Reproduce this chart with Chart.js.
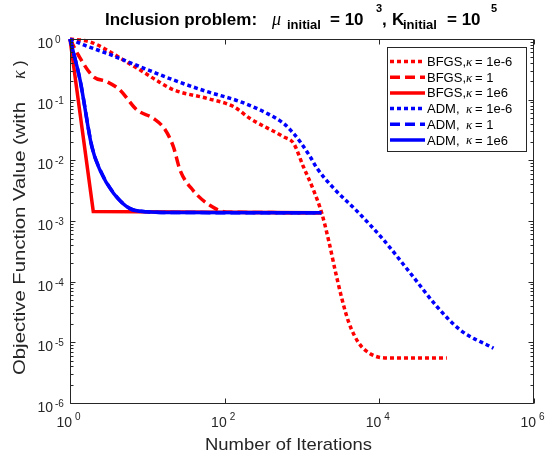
<!DOCTYPE html>
<html>
<head>
<meta charset="utf-8">
<script src="https://cdn.jsdelivr.net/npm/chart.js@4.4.0/dist/chart.umd.min.js"></script>
<style>
  html, body { margin: 0; padding: 0; background: #fff; }
</style>
</head>
<body>
<canvas id="chart" width="547" height="452"></canvas>
<script>
// BFGS, kappa = 1e-6 (red dotted)
const bfgsTinyX = [1, 1.8, 3, 4.9, 8, 13, 22, 59, 130, 213, 575, 780, 1040, 1400, 1800, 2200, 2800, 3800, 5100, 7600, 13800, 74600];
const bfgsTinyY = [1, 0.9, 0.66, 0.45, 0.31, 0.21, 0.145, 0.105, 0.077, 0.049, 0.0245, 0.019, 0.0079, 0.0033, 0.00135, 0.00049, 0.000121, 0.0000266, 0.000011, 0.0000065, 0.0000055, 0.0000055];
// BFGS, kappa = 1 (red dashed)
const bfgsOneX = [1, 1.28, 2, 3, 4.4, 7.3, 12, 17, 21.7, 26.5, 39, 65, 107, 1780];
const bfgsOneY = [1, 0.545, 0.24, 0.198, 0.145, 0.068, 0.049, 0.032, 0.0168, 0.0069, 0.0032, 0.0018, 0.0014, 0.00137];
// BFGS, kappa = 1e6 (red solid)
const bfgsBigX = [1, 2, 1780];
const bfgsBigY = [1, 0.00143, 0.00137];
// ADM, kappa = 1e-6 (blue dotted)
const admTinyX = [1, 1.5, 3, 8, 22, 59, 158, 350, 575, 774, 945, 1273, 1554, 2550, 5100, 11300, 25200, 55400, 111000, 299000];
const admTinyY = [1, 0.8, 0.58, 0.35, 0.21, 0.136, 0.093, 0.0597, 0.0408, 0.0279, 0.0203, 0.0115, 0.0075, 0.0035, 0.00147, 0.00049, 0.000138, 0.000039, 0.000016, 0.000008];
// ADM, kappa = 1 (blue dashed)
const admOneX = [1, 1.35, 1.92, 2.46, 3.66, 6, 9.9, 20, 1780];
const admOneY = [1, 0.21, 0.017, 0.0069, 0.0029, 0.0016, 0.00142, 0.00138, 0.00137];
// ADM, kappa = 1e6 (blue solid)
const admBigX = [1, 1.35, 1.91, 2.44, 3.63, 5.97, 9.8, 20, 1780];
const admBigY = [1, 0.21, 0.017, 0.0069, 0.0029, 0.0016, 0.00142, 0.00138, 0.00137];

const legendPrefix = ['BFGS,', 'BFGS,', 'BFGS,', 'ADM,', 'ADM,', 'ADM,'];
const legendValue = ['= 1e-6', '= 1', '= 1e6', '= 1e-6', '= 1', '= 1e6'];

const xTicks = [1, 1e2, 1e4, 1e6];
const xTickExp = ['0', '2', '4', '6'];
const yTicks = [1, 1e-1, 1e-2, 1e-3, 1e-4, 1e-5, 1e-6];
const yTickExp = ['0', '-1', '-2', '-3', '-4', '-5', '-6'];

const RED = '#ff0000';
const BLUE = '#0000ff';
const DOT = [4, 3];
const DASH = [10, 5];
const TXT = '#262626';

function pts(xs, ys) {
  return xs.map((x, i) => ({ x: x, y: ys[i] }));
}

function series(label, xs, ys, color, dash, idx, straight) {
  return {
    label: label,
    data: pts(xs, ys),
    borderColor: color,
    backgroundColor: color,
    borderWidth: 3.5,
    borderDash: dash,
    borderCapStyle: 'butt',
    pointRadius: 0,
    fill: false,
    clip: false,
    cubicInterpolationMode: straight ? 'default' : 'monotone',
    tension: 0,
    order: 5 - idx
  };
}

// stretch text horizontally so it covers the measured width
function fitText(ctx, str, x, y, w) {
  const m = ctx.measureText(str).width;
  ctx.save();
  ctx.translate(x, y);
  ctx.scale(w / m, 1);
  ctx.fillText(str, 0, 0);
  ctx.restore();
}

const matlabAxes = {
  id: 'matlabAxes',
  afterDraw(chart) {
    const ctx = chart.ctx;
    const xs = chart.scales.x, ys = chart.scales.y;
    const L = 70.5, R = 533.5, T = 39.5, B = 403.5;
    ctx.save();
    ctx.strokeStyle = TXT;
    ctx.lineWidth = 1;
    ctx.setLineDash([]);
    ctx.beginPath();
    ctx.rect(L, T, R - L, B - T);
    // x ticks, top and bottom
    xTicks.forEach(v => {
      const px = Math.round(xs.getPixelForValue(v)) + 0.5;
      ctx.moveTo(px, B); ctx.lineTo(px, B - 5);
      ctx.moveTo(px, T); ctx.lineTo(px, T + 5);
    });
    // y major ticks
    yTicks.forEach(v => {
      const py = Math.round(ys.getPixelForValue(v)) + 0.5;
      ctx.moveTo(L, py); ctx.lineTo(L + 5, py);
      ctx.moveTo(R, py); ctx.lineTo(R - 5, py);
    });
    // y minor ticks
    for (let d = -6; d < 0; d++) {
      for (let k = 2; k <= 9; k++) {
        const py = Math.round(ys.getPixelForValue(k * Math.pow(10, d))) + 0.5;
        ctx.moveTo(L, py); ctx.lineTo(L + 3, py);
        ctx.moveTo(R, py); ctx.lineTo(R - 3, py);
      }
    }
    ctx.stroke();

    // tick labels
    ctx.fillStyle = TXT;
    ctx.textBaseline = 'alphabetic';
    xTicks.forEach((v, i) => {
      const px = xs.getPixelForValue(v);
      ctx.font = '14px "Liberation Sans", Arial, sans-serif';
      ctx.textAlign = 'right';
      ctx.fillText('10', px + 2, 427);
      ctx.font = '10px "Liberation Sans", Arial, sans-serif';
      ctx.textAlign = 'left';
      ctx.fillText(xTickExp[i], px + 5, 420);
    });
    yTicks.forEach((v, i) => {
      const py = ys.getPixelForValue(v);
      ctx.font = '14px "Liberation Sans", Arial, sans-serif';
      ctx.textAlign = 'right';
      ctx.fillText('10', 53, py + 9);
      ctx.font = '10px "Liberation Sans", Arial, sans-serif';
      ctx.textAlign = 'left';
      ctx.fillText(yTickExp[i], 55, py + 4);
    });

    // axis titles
    ctx.textAlign = 'left';
    ctx.font = '17px "Liberation Sans", Arial, sans-serif';
    fitText(ctx, 'Number of Iterations', 205, 450, 167);

    ctx.save();
    ctx.translate(25, 375);
    ctx.rotate(-Math.PI / 2);
    ctx.font = '17px "Liberation Sans", Arial, sans-serif';
    fitText(ctx, 'Objective Function Value (with', 0, 0, 273);
    ctx.font = 'italic 18px "Liberation Serif", "Times New Roman", serif';
    ctx.fillText('\u03BA', 296, 0);
    ctx.font = '17px "Liberation Sans", Arial, sans-serif';
    ctx.fillText(')', 309, 0);
    ctx.restore();

    // title
    ctx.fillStyle = '#000';
    ctx.font = 'bold 17px "Liberation Sans", Arial, sans-serif';
    ctx.fillText('Inclusion problem:', 105, 25);
    ctx.font = 'italic 18px "Liberation Serif", "Times New Roman", serif';
    ctx.fillText('\u03BC', 272, 25);
    ctx.font = 'bold 13px "Liberation Sans", Arial, sans-serif';
    ctx.fillText('initial', 287, 29);
    ctx.font = 'bold 17px "Liberation Sans", Arial, sans-serif';
    ctx.fillText('= 10', 330, 25);
    ctx.font = 'bold 11px "Liberation Sans", Arial, sans-serif';
    ctx.fillText('3', 376, 12);
    ctx.font = 'bold 17px "Liberation Sans", Arial, sans-serif';
    ctx.fillText(',', 382, 25);
    ctx.fillText('K', 392, 25);
    ctx.font = 'bold 13px "Liberation Sans", Arial, sans-serif';
    ctx.fillText('initial', 403, 29);
    ctx.font = 'bold 17px "Liberation Sans", Arial, sans-serif';
    ctx.fillText('= 10', 447, 25);
    ctx.font = 'bold 11px "Liberation Sans", Arial, sans-serif';
    ctx.fillText('5', 491, 12);

    // legend box
    ctx.fillStyle = '#fff';
    ctx.fillRect(387, 47, 140, 105);
    ctx.strokeStyle = TXT;
    ctx.lineWidth = 1;
    ctx.strokeRect(387.5, 47.5, 139, 104);
    chart.data.datasets.forEach((ds, i) => {
      const cy = 61.5 + i * 15.7;
      ctx.save();
      ctx.strokeStyle = ds.borderColor;
      ctx.lineWidth = ds.borderWidth;
      ctx.lineCap = 'butt';
      ctx.setLineDash(ds.borderDash);
      ctx.beginPath();
      ctx.moveTo(390, cy);
      ctx.lineTo(425, cy);
      ctx.stroke();
      ctx.restore();
      ctx.fillStyle = '#000';
      ctx.textBaseline = 'middle';
      ctx.font = '13px "Liberation Sans", Arial, sans-serif';
      ctx.fillText(legendPrefix[i], 427, cy + 1);
      ctx.font = 'italic 13px "Liberation Serif", "Times New Roman", serif';
      ctx.fillText('\u03BA', 466, cy + 1);
      ctx.font = '13px "Liberation Sans", Arial, sans-serif';
      ctx.fillText(legendValue[i], 475, cy + 1);
    });
    ctx.restore();
  }
};

new Chart(document.getElementById('chart').getContext('2d'), {
  type: 'line',
  data: {
    datasets: [
      series('BFGS, \u03BA = 1e-6', bfgsTinyX, bfgsTinyY, RED, DOT, 0, false),
      series('BFGS, \u03BA = 1', bfgsOneX, bfgsOneY, RED, DASH, 1, false),
      series('BFGS, \u03BA = 1e6', bfgsBigX, bfgsBigY, RED, [], 2, true),
      series('ADM, \u03BA = 1e-6', admTinyX, admTinyY, BLUE, DOT, 3, false),
      series('ADM, \u03BA = 1', admOneX, admOneY, BLUE, DASH, 4, false),
      series('ADM, \u03BA = 1e6', admBigX, admBigY, BLUE, [], 5, false)
    ]
  },
  options: {
    responsive: false,
    animation: false,
    layout: { padding: { left: 70, top: 39, right: 13, bottom: 49 } },
    plugins: {
      legend: { display: false },
      title: { display: false },
      tooltip: { enabled: false }
    },
    scales: {
      x: { type: 'logarithmic', min: 1, max: 1e6, display: false },
      y: { type: 'logarithmic', min: 1e-6, max: 1, display: false }
    }
  },
  plugins: [matlabAxes]
});
</script>
</body>
</html>
